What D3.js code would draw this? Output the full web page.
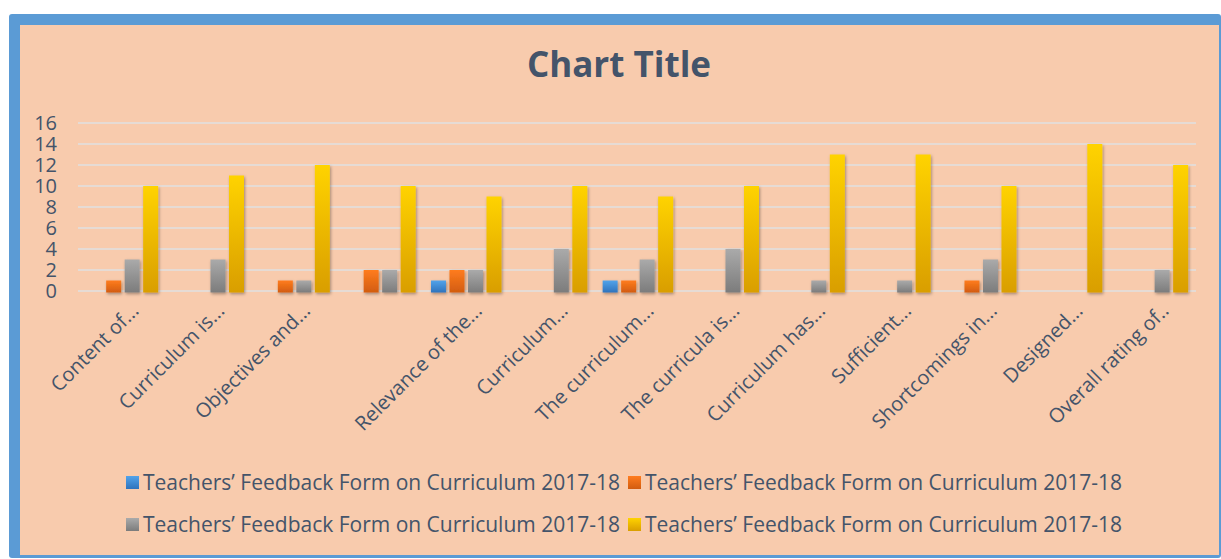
<!DOCTYPE html>
<html>
<head>
<meta charset="utf-8">
<script src="https://cdn.jsdelivr.net/npm/d3@7"></script>
<style>
  body { margin: 0; background: #fff; }
  svg { display: block; }
  text { font-family: "Open Sans", sans-serif; fill: #44546A; }
</style>
</head>
<body>
<div id="chart"></div>
<script>
// chart data
const categories = ["Content of...", "Curriculum is...", "Objectives and...", "",
  "Relevance of the...", "Curriculum...", "The curriculum...", "The curricula is...",
  "Curriculum has...", "Sufficient...", "Shortcomings in...", "Designed...", "Overall rating of.."];
const seriesNames = ["Teachers’ Feedback Form on Curriculum 2017-18",
  "Teachers’ Feedback Form on Curriculum 2017-18",
  "Teachers’ Feedback Form on Curriculum 2017-18",
  "Teachers’ Feedback Form on Curriculum 2017-18"];
const blueValues   = [null, null, null, null, 1, null, 1, null, null, null, null, null, null];
const orangeValues = [1, null, 1, 2, 2, null, 1, null, null, null, 1, null, null];
const grayValues   = [3, 3, 1, 2, 2, 4, 3, 4, 1, 1, 3, null, 2];
const yellowValues = [10, 11, 12, 10, 9, 10, 9, 10, 13, 13, 10, 14, 12];
const yTicks = [0, 2, 4, 6, 8, 10, 12, 14, 16];

const seriesValues = [blueValues, orangeValues, grayValues, yellowValues];
const gradients = [
  ["#52A3EA", "#2F73BD"],
  ["#FF7C1E", "#D25C10"],
  ["#AAAAAA", "#7C7C7C"],
  ["#FFD300", "#D99E00"]
];

const W = 1221, H = 559;

const svg = d3.select("#chart").append("svg")
  .attr("width", W)
  .attr("height", H);

const defs = svg.append("defs");
gradients.forEach(function (g, i) {
  const lg = defs.append("linearGradient")
    .attr("id", "grad" + i)
    .attr("x1", 0).attr("y1", 0).attr("x2", 0).attr("y2", 1);
  lg.append("stop").attr("offset", "0%").attr("stop-color", g[0]);
  lg.append("stop").attr("offset", "100%").attr("stop-color", g[1]);
});
defs.append("filter")
  .attr("id", "shadow")
  .attr("x", "-30%").attr("y", "-10%").attr("width", "160%").attr("height", "120%")
  .append("feDropShadow")
  .attr("dx", 1).attr("dy", 1.5).attr("stdDeviation", 1.5)
  .attr("flood-color", "#000").attr("flood-opacity", 0.35);

// frame
svg.append("rect")
  .attr("x", 9).attr("y", 14).attr("width", 1212).attr("height", 544)
  .attr("rx", 3)
  .attr("fill", "#5B9BD5");
svg.append("rect")
  .attr("x", 20).attr("y", 25).attr("width", 1199).attr("height", 530)
  .attr("fill", "#F8CBAD");

// title
svg.append("text")
  .attr("x", 619).attr("y", 77)
  .attr("text-anchor", "middle")
  .style("font-size", "35px")
  .style("font-weight", "bold")
  .text("Chart Title");

const x = d3.scaleBand()
  .domain(d3.range(categories.length))
  .range([80, 1195.8])
  .paddingInner(0)
  .paddingOuter(0);

const xInner = d3.scaleBand()
  .domain(d3.range(seriesValues.length))
  .range([0, 70.5])
  .paddingInner(0.19);

const y = d3.scaleLinear()
  .domain([0, 16])
  .range([291, 123]);

// gridlines
svg.append("g")
  .selectAll("line")
  .data(yTicks)
  .join("line")
  .attr("x1", 78).attr("x2", 1196)
  .attr("y1", d => y(d)).attr("y2", d => y(d))
  .attr("stroke", "#E6DBD4")
  .attr("stroke-width", 2);

// y axis labels
const yAxis = svg.append("g")
  .attr("transform", "translate(57,0)")
  .call(d3.axisLeft(y).tickValues(yTicks).tickSize(0).tickPadding(0));
yAxis.select(".domain").remove();
yAxis.selectAll("text")
  .style("font-family", "'Open Sans', sans-serif")
  .style("font-size", "20px")
  .attr("fill", "#44546A");

// bars
const groupOffset = (x.bandwidth() - 70.5) / 2;
const barData = [];
seriesValues.forEach(function (vals, s) {
  vals.forEach(function (v, c) {
    if (v !== null) barData.push({ s: s, c: c, v: v });
  });
});
svg.append("g")
  .attr("filter", "url(#shadow)")
  .selectAll("rect")
  .data(barData)
  .join("rect")
  .attr("x", d => x(d.c) + groupOffset + xInner(d.s))
  .attr("y", d => y(d.v))
  .attr("width", xInner.bandwidth())
  .attr("height", d => y(0) - y(d.v) + 1.5)
  .attr("fill", d => "url(#grad" + d.s + ")");

// category labels
svg.append("g")
  .selectAll("text")
  .data(categories)
  .join("text")
  .attr("transform", (d, i) => `translate(${x(i) + x.bandwidth() / 2 + 17},${312}) rotate(-45)`)
  .attr("text-anchor", "end")
  .style("font-size", "20px")
  .text(d => d);

// legend
const legendPos = [[126, 483], [628, 483], [126, 525], [628, 525]];
const legend = svg.append("g")
  .selectAll("g")
  .data(seriesNames)
  .join("g")
  .attr("transform", (d, i) => `translate(${legendPos[i][0]},${legendPos[i][1]})`);
legend.append("rect")
  .attr("x", 0).attr("y", -7)
  .attr("width", 13).attr("height", 13)
  .attr("fill", (d, i) => "url(#grad" + i + ")");
legend.append("text")
  .attr("x", 17).attr("y", 0)
  .attr("dy", "0.35em")
  .style("font-size", "21px")
  .text(d => d);
</script>
</body>
</html>
